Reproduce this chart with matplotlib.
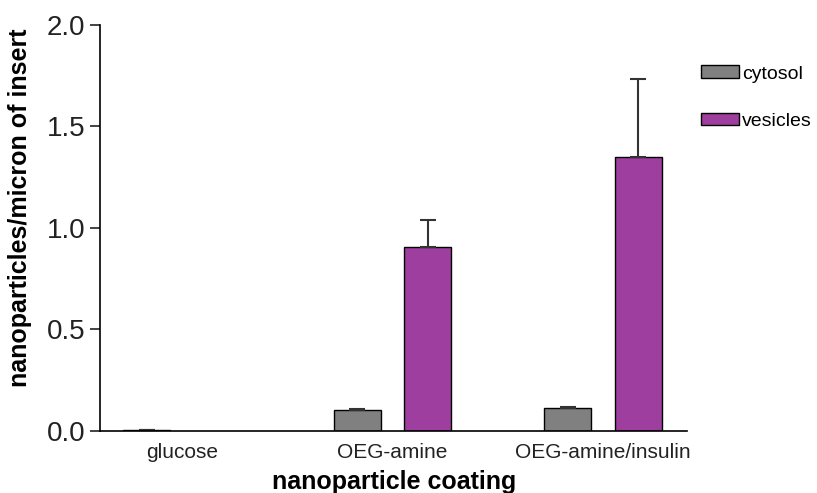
import matplotlib.pyplot as plt
import numpy as np

plt.rcParams['font.family'] = ['Liberation Sans', 'DejaVu Sans']

categories = ['glucose', 'OEG-amine', 'OEG-amine/insulin']
cytosol = [0.005, 0.102, 0.113]
cytosol_err = [0.0, 0.006, 0.006]
vesicles = [np.nan, 0.906, 1.348]
vesicles_err = [np.nan, 0.134, 0.386]


def main():
    fig = plt.figure(figsize=(8.17, 4.93), dpi=100)
    ax = fig.add_axes([0.1224, 0.1258, 0.7186, 0.8235])

    x = np.arange(len(categories))
    w = 0.223
    off = 0.167
    ekw = dict(ecolor='#333333', elinewidth=1.5, capthick=1.5, capsize=6)

    ax.bar(x - off, cytosol, w, color='#808080', edgecolor='black',
           linewidth=1, label='cytosol',
           yerr=[np.zeros(3), cytosol_err], error_kw=ekw)
    ax.bar(x + off, vesicles, w, color='#9e3e9e', edgecolor='black',
           linewidth=1, label='vesicles',
           yerr=[np.zeros(3), vesicles_err], error_kw=ekw)

    ax.set_xlim(-0.39, 2.40)
    ax.set_ylim(0, 2.0)
    ax.set_yticks([0, 0.5, 1.0, 1.5, 2.0])
    ax.set_yticklabels(['0.0', '0.5', '1.0', '1.5', '2.0'])
    ax.set_xticks(x)
    ax.set_xticklabels(categories, fontsize=15, color='#222222')
    ax.tick_params(axis='x', length=0, pad=9)
    ax.tick_params(axis='y', labelsize=20, length=7, width=1.2,
                   colors='#222222')
    ax.spines['top'].set_visible(False)
    ax.spines['right'].set_visible(False)
    ax.spines['left'].set_linewidth(1.2)
    ax.spines['bottom'].set_linewidth(1.2)

    ax.set_xlabel('nanoparticle coating', fontsize=18, fontweight='bold')
    ax.xaxis.set_label_coords(0.501, -0.095)
    ax.set_ylabel('nanoparticles/micron of insert', fontsize=18,
                  fontweight='bold')
    ax.yaxis.set_label_coords(-0.116, 0.549)

    ax.legend(loc='upper left', bbox_to_anchor=(0.849, 0.883),
              bbox_transform=fig.transFigure, frameon=False, fontsize=14,
              handlelength=1.95, handleheight=0.62, handletextpad=0.15,
              labelspacing=1.55, borderaxespad=0)

    fig.savefig('out.png', dpi=100)


if __name__ == '__main__':
    main()
